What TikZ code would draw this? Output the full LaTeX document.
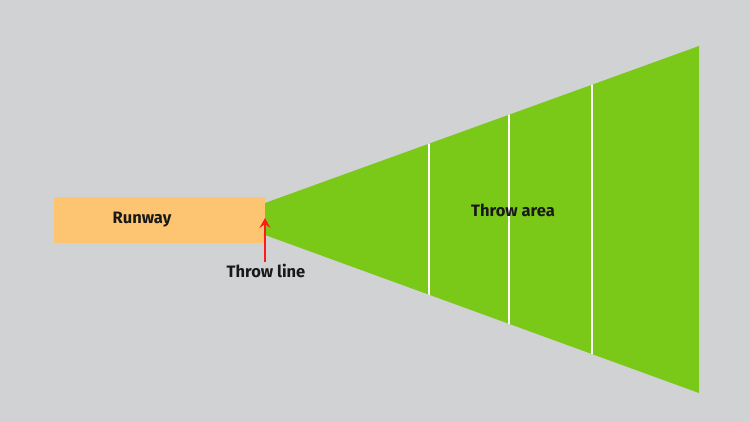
\documentclass[tikz,border=0pt]{standalone}
\usepackage{fontspec}
\setmainfont{Fira Sans}
\usetikzlibrary{arrows.meta}
\definecolor{bg}{HTML}{D1D2D4}
\definecolor{runway}{HTML}{FDC571}
\definecolor{field}{HTML}{7AC817}
\definecolor{arrowred}{HTML}{FF1A1A}
\tikzset{
  lbl/.style={font=\fontsize{16.5}{19}\selectfont\bfseries, text=black!90, inner sep=0pt},
  divider/.style={draw=white, line width=1.8pt},
}
\begin{document}
\begin{tikzpicture}[x=1pt,y=-1pt]
\fill[bg] (0,0) rectangle (750,422);
\useasboundingbox (0,0) rectangle (750,422);
% runway
\fill[runway] (54,197) rectangle (265,243);
\node[lbl] (runway) at (142,220) {Runway};
% throw area
\coordinate (tl) at (265,203);
\coordinate (bl) at (265,235);
\coordinate (tr) at (699,46);
\coordinate (br) at (699,393);
\fill[field] (tl) -- (tr) -- (br) -- (bl) -- cycle;
\begin{scope}
\clip (tl) -- (tr) -- (br) -- (bl) -- cycle;
\foreach \x in {429,509,592} \draw[divider] (\x,0) -- (\x,422);
\end{scope}
\node[lbl] (area) at (513,210) {Throw area};
% throw line
\node[lbl] (tline) at (266,271) {Throw line};
\coordinate (tip) at (265,218);
\draw[arrowred, line width=2.8pt, -{Stealth[length=10pt,width=11pt,inset=4pt]}] (265,262) -- (tip);
\end{tikzpicture}
\end{document}
